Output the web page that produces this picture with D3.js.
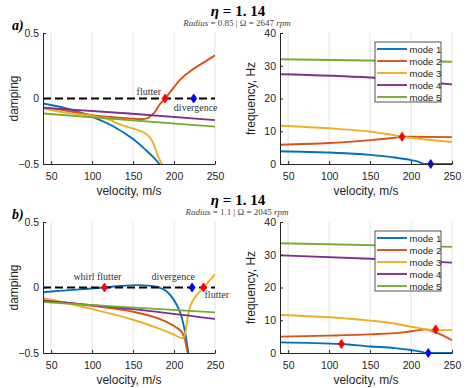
<!DOCTYPE html>
<html>
<head>
<meta charset="utf-8">
<script src="https://cdn.jsdelivr.net/npm/d3@7"></script>
<style>
  body { margin: 0; background: #fff; }
  svg { font-family: "Liberation Sans", Arial, sans-serif; }
  .serif { font-family: "Liberation Serif", "DejaVu Serif", serif; }
</style>
</head>
<body>
<div id="chart"></div>
<script>
// velocity, m/s  ->  value
var modeNames = ["mode 1", "mode 2", "mode 3", "mode 4", "mode 5"];
var modeColors = ["#0072BD", "#D95319", "#EDB120", "#7E2F8E", "#77AC30"];
var velTicks = [50, 100, 150, 200, 250];
var dampTicks = [-0.5, 0, 0.5];
var freqTicks = [0, 10, 20, 30, 40];

// case a) Radius 0.85
var aDamp1 = [[40,-0.038],[70,-0.078],[100,-0.14],[125,-0.21],[150,-0.31],[165,-0.39],[175,-0.45],[182,-0.5],[185,-0.53]];
var aDamp2 = [[40,-0.068],[70,-0.095],[100,-0.127],[130,-0.145],[160,-0.158],[168,-0.15],[172,-0.13],[177,-0.1],[182,-0.05],[189,0],[198,0.07],[207,0.14],[220,0.21],[235,0.27],[250,0.33]];
var aDamp3 = [[40,-0.076],[70,-0.11],[100,-0.134],[120,-0.16],[135,-0.2],[150,-0.23],[160,-0.25],[168,-0.28],[173,-0.32],[177,-0.38],[181,-0.45],[185,-0.5],[187,-0.53]];
var aDamp4 = [[40,-0.07],[145,-0.115],[250,-0.165]];
var aDamp5 = [[40,-0.114],[250,-0.215]];

var aFreq1 = [[40,3.9],[100,3.5],[150,2.8],[180,2.0],[200,1.2],[210,0.6],[216,0],[250,0]];
var aFreq2 = [[40,5.9],[100,6.4],[150,7.3],[180,8.0],[190,8.3],[200,8.3],[250,8.2]];
var aFreq3 = [[40,11.7],[100,10.9],[150,9.9],[175,9.0],[190,8.3],[210,7.7],[250,6.7]];
var aFreq4 = [[40,27.4],[150,26.4],[250,24.3]];
var aFreq5 = [[40,32.0],[250,31.2]];

// case b) Radius 1.1
var bDamp1 = [[40,-0.036],[60,-0.026],[85,-0.014],[115,0],[135,0.012],[155,0.018],[172,0.012],[182,0],[190,-0.025],[197,-0.07],[203,-0.13],[208,-0.2],[211,-0.27],[214,-0.36],[216,-0.44],[217.5,-0.5],[218.5,-0.56]];
var bDamp2 = [[40,-0.095],[100,-0.14],[150,-0.185],[190,-0.26],[205,-0.315],[210,-0.345],[213,-0.39],[215,-0.45],[216.5,-0.5],[217.5,-0.54]];
var bDamp3 = [[40,-0.08],[100,-0.165],[150,-0.246],[180,-0.31],[200,-0.36],[209,-0.385],[212,-0.385],[214,-0.34],[216,-0.25],[219,-0.16],[224,-0.09],[230,-0.04],[236,0],[243,0.05],[250,0.1]];
var bDamp4 = [[40,-0.1],[150,-0.165],[250,-0.24]];
var bDamp5 = [[40,-0.112],[250,-0.19]];

var bFreq1 = [[40,3.25],[115,2.75],[150,2.0],[180,1.5],[200,0.9],[212,0.4],[218,0],[250,0]];
var bFreq2 = [[40,5.0],[100,5.3],[150,5.7],[190,6.3],[210,7.0],[218,7.2],[228,6.5],[240,5.2],[250,3.9]];
var bFreq3 = [[40,11.6],[100,10.9],[150,9.9],[180,9.0],[200,8.0],[212,7.5],[222,7.1],[235,7.0],[250,7.0]];
var bFreq4 = [[40,29.8],[150,28.8],[250,27.6]];
var bFreq5 = [[40,33.5],[250,32.4]];

// diamond markers [velocity, value, colour]
var aDampMarks = [[189, 0, "red"], [224, 0, "blue"]];
var aFreqMarks = [[189, 8.3, "red"], [224, 0, "blue"]];
var bDampMarks = [[115, 0, "red"], [222, 0, "blue"], [236, 0, "red"]];
var bFreqMarks = [[115, 2.75, "red"], [230, 7.2, "red"], [221, 0, "blue"]];

var svg = d3.select("#chart").append("svg")
  .attr("width", 474)
  .attr("height", 388);

var plotW = 172, plotH = 131;
var ink = "#262626";
var diamond = "M0,-4.5L3,0L0,4.5L-3,0Z";
var clipId = 0;

function drawPlot(left, top, yDomain, yTicks, yLabel, curves, marks, withZero) {
  var x = d3.scaleLinear().domain([40, 250]).range([0, plotW]);
  var y = d3.scaleLinear().domain(yDomain).range([plotH, 0]);
  var g = svg.append("g").attr("transform", `translate(${left},${top})`);

  // x grid
  g.selectAll(".grid").data(velTicks).enter().append("line")
    .attr("x1", d => x(d)).attr("x2", d => x(d))
    .attr("y1", 0).attr("y2", plotH)
    .attr("stroke", "#e3e3e3").attr("stroke-width", 1);

  var id = "clip" + (clipId++);
  g.append("clipPath").attr("id", id).append("rect")
    .attr("width", plotW).attr("height", plotH);

  var line = d3.line()
    .x(d => x(d[0])).y(d => y(d[1]))
    .curve(d3.curveMonotoneX);

  var inner = g.append("g").attr("clip-path", `url(#${id})`);
  curves.forEach(function(c, i) {
    inner.append("path")
      .attr("d", line(c))
      .attr("fill", "none")
      .attr("stroke", modeColors[i])
      .attr("stroke-width", 1.9);
  });

  if (withZero) {
    g.append("line")
      .attr("x1", x(40)).attr("x2", x(250))
      .attr("y1", y(0)).attr("y2", y(0))
      .attr("stroke", "#000").attr("stroke-width", 2.2)
      .attr("stroke-dasharray", "8,4");
  }

  marks.forEach(function(m) {
    g.append("path")
      .attr("d", diamond)
      .attr("transform", `translate(${x(m[0])},${y(m[1])})`)
      .attr("fill", m[2] === "red" ? "#ff0000" : "#0000ff")
      .attr("stroke", m[2] === "red" ? "#ff0000" : "#0000ff")
      .attr("stroke-width", 0.8);
  });

  var xAxis = g.append("g")
    .attr("transform", `translate(0,${plotH})`)
    .call(d3.axisBottom(x).tickValues(velTicks).tickSize(-3).tickPadding(9).tickSizeOuter(0));
  var yAxis = g.append("g")
    .call(d3.axisLeft(y).tickValues(yTicks).tickSize(-3).tickPadding(4).tickSizeOuter(0)
      .tickFormat(d3.format("")));
  [xAxis, yAxis].forEach(function(a) {
    a.select(".domain").attr("stroke", ink);
    a.selectAll(".tick line").attr("stroke", ink);
    a.selectAll("text").attr("fill", ink).attr("font-size", 10.5)
      .attr("font-family", "Liberation Sans, Arial, sans-serif");
  });

  g.append("text")
    .attr("x", plotW / 2).attr("y", plotH + 31)
    .attr("text-anchor", "middle")
    .attr("font-size", 12).attr("fill", ink)
    .text("velocity, m/s");
  g.append("text")
    .attr("transform", `translate(-25,${plotH / 2}) rotate(-90)`)
    .attr("text-anchor", "middle")
    .attr("font-size", 12).attr("fill", ink)
    .text(yLabel);

  return { g: g, x: x, y: y };
}

function drawLegend(g, top) {
  var lg = g.append("g").attr("transform", `translate(95,${top})`);
  lg.append("rect")
    .attr("width", 66).attr("height", 60)
    .attr("fill", "#fff").attr("stroke", ink).attr("stroke-width", 0.8);
  modeNames.forEach(function(n, i) {
    var yy = 7 + i * 12;
    lg.append("line")
      .attr("x1", 2).attr("x2", 32).attr("y1", yy).attr("y2", yy)
      .attr("stroke", modeColors[i]).attr("stroke-width", 1.9);
    lg.append("text")
      .attr("x", 34.5).attr("y", yy + 3.5)
      .attr("font-size", 9.5).attr("fill", ink)
      .text(n);
  });
}

function note(p, v, dx, dy, anchor, txt) {
  p.g.append("text")
    .attr("class", "serif")
    .attr("x", p.x(v) + dx).attr("y", p.y(0) + dy)
    .attr("text-anchor", anchor)
    .attr("font-size", 10).attr("fill", "#333")
    .text(txt);
}

function heading(top, label, radius, rpm) {
  svg.append("text").attr("class", "serif")
    .attr("x", 238).attr("y", top + 15.5)
    .attr("text-anchor", "middle")
    .attr("font-size", 15).attr("font-weight", "bold")
    .html("<tspan font-style='italic'>η</tspan> = 1. 14");
  svg.append("text").attr("class", "serif")
    .attr("x", 237).attr("y", top + 26)
    .attr("text-anchor", "middle")
    .attr("font-size", 9).attr("fill", "#444")
    .html(`<tspan font-style='italic'>Radius</tspan> = ${radius} | Ω = ${rpm} <tspan font-style='italic'>rpm</tspan>`);
  svg.append("text").attr("class", "serif")
    .attr("x", 12).attr("y", top + 30)
    .attr("font-size", 14).attr("font-weight", "bold").attr("font-style", "italic")
    .text(label);
}

// a)
heading(0, "a)", "0.85", "2647");
var pa1 = drawPlot(43, 33, [-0.5, 0.5], dampTicks, "damping",
  [aDamp1, aDamp2, aDamp3, aDamp4, aDamp5], aDampMarks, true);
var pa2 = drawPlot(280, 33, [0, 40], freqTicks, "frequency, Hz",
  [aFreq1, aFreq2, aFreq3, aFreq4, aFreq5], aFreqMarks, false);
drawLegend(pa2.g, 9);
note(pa1, 189, -4, -4, "end", "flutter");
note(pa1, 224, 2, 12, "middle", "divergence");

// b)
heading(189, "b)", "1.1", "2045");
var pb1 = drawPlot(43, 222, [-0.5, 0.5], dampTicks, "damping",
  [bDamp1, bDamp2, bDamp3, bDamp4, bDamp5], bDampMarks, true);
var pb2 = drawPlot(280, 222, [0, 40], freqTicks, "frequency, Hz",
  [bFreq1, bFreq2, bFreq3, bFreq4, bFreq5], bFreqMarks, false);
drawLegend(pb2.g, 9);
note(pb1, 115, -7, -8, "middle", "whirl flutter");
note(pb1, 222, 3, -8, "end", "divergence");
note(pb1, 236, 1, 10, "start", "flutter");
</script>
</body>
</html>
